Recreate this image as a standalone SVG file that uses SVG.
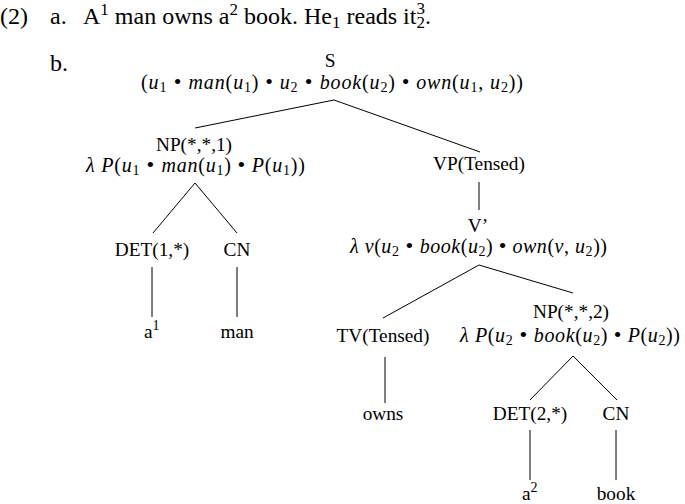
<svg xmlns="http://www.w3.org/2000/svg" width="685" height="504" viewBox="0 0 685 504">
<style>
text{font-family:"Liberation Serif","Times New Roman",serif;fill:#000}
.t{font-size:19.3px}
.m{font-size:20px}
.big{font-size:24px}
.c{text-anchor:middle}
.i{font-style:italic}
.s{font-size:14px}
.b{font-size:22px}
.ss{font-size:17px}
line{stroke:#000;stroke-width:1}
</style>
<rect width="685" height="504" fill="#fff"/>
<g id="example-header">
<text class="big" y="24"><tspan x="0">(2)</tspan><tspan x="50">a.</tspan><tspan x="83">A</tspan><tspan class="ss" dy="-9">1</tspan><tspan dy="9"> man owns a</tspan><tspan class="ss" dy="-9">2</tspan><tspan dy="9"> book. He</tspan><tspan class="ss" dy="4">1</tspan><tspan dy="-4"> reads it</tspan><tspan class="ss" dy="-10">3</tspan><tspan class="ss" dx="-8.5" dy="14">2</tspan><tspan dy="-4">.</tspan></text>
<text class="big" x="50" y="71">b.</text>
</g>
<g id="connectors">
<line x1="334" y1="100" x2="195" y2="128"/>
<line x1="334" y1="100" x2="480" y2="152"/>
<line x1="195" y1="183" x2="153" y2="233"/>
<line x1="195" y1="183" x2="237" y2="233"/>
<line x1="152" y1="267" x2="152" y2="317"/>
<line x1="237" y1="267" x2="237" y2="317"/>
<line x1="479" y1="182" x2="479" y2="210"/>
<line x1="479" y1="265" x2="383" y2="318"/>
<line x1="479" y1="265" x2="573" y2="293"/>
<line x1="385" y1="357" x2="385" y2="403"/>
<line x1="573" y1="356" x2="530" y2="400"/>
<line x1="573" y1="356" x2="617" y2="400"/>
<line x1="530" y1="430" x2="530" y2="480"/>
<line x1="616" y1="430" x2="616" y2="480"/>
</g>
<g id="node-S">
<text class="t c" x="330" y="67">S</text>
<text class="m" x="141" y="89" textLength="382" lengthAdjust="spacing">(<tspan class="i">u</tspan><tspan class="s" dy="3">1</tspan><tspan dy="-3" class="b"> • </tspan><tspan class="i">man</tspan>(<tspan class="i">u</tspan><tspan class="s" dy="3">1</tspan><tspan dy="-3">) <tspan class="b">•</tspan> </tspan><tspan class="i">u</tspan><tspan class="s" dy="3">2</tspan><tspan dy="-3" class="b"> • </tspan><tspan class="i">book</tspan>(<tspan class="i">u</tspan><tspan class="s" dy="3">2</tspan><tspan dy="-3">) <tspan class="b">•</tspan> </tspan><tspan class="i">own</tspan>(<tspan class="i">u</tspan><tspan class="s" dy="3">1</tspan><tspan dy="-3">, </tspan><tspan class="i">u</tspan><tspan class="s" dy="3">2</tspan><tspan dy="-3">))</tspan></text>
</g>
<g id="node-NP1">
<text class="t c" x="194" y="151">NP(*,*,1)</text>
<text class="m" x="86" y="172" textLength="219" lengthAdjust="spacing"><tspan class="i">λ P</tspan>(<tspan class="i">u</tspan><tspan class="s" dy="3">1</tspan><tspan dy="-3" class="b"> • </tspan><tspan class="i">man</tspan>(<tspan class="i">u</tspan><tspan class="s" dy="3">1</tspan><tspan dy="-3">) <tspan class="b">•</tspan> </tspan><tspan class="i">P</tspan>(<tspan class="i">u</tspan><tspan class="s" dy="3">1</tspan><tspan dy="-3">))</tspan></text>
</g>
<g id="node-DET1"><text class="t c" x="152" y="256">DET(1,*)</text></g>
<g id="node-CN1"><text class="t c" x="237" y="256">CN</text></g>
<g id="node-a1"><text class="t" x="144" y="338">a<tspan class="s" dy="-8">1</tspan></text></g>
<g id="node-man"><text class="t c" x="237" y="338">man</text></g>
<g id="node-VP"><text class="t c" x="479" y="170">VP(Tensed)</text></g>
<g id="node-V1">
<text class="t c" x="478" y="232">V’</text>
<text class="m" x="350" y="253" textLength="257" lengthAdjust="spacing"><tspan class="i">λ v</tspan>(<tspan class="i">u</tspan><tspan class="s" dy="3">2</tspan><tspan dy="-3" class="b"> • </tspan><tspan class="i">book</tspan>(<tspan class="i">u</tspan><tspan class="s" dy="3">2</tspan><tspan dy="-3">) <tspan class="b">•</tspan> </tspan><tspan class="i">own</tspan>(<tspan class="i">v</tspan>, <tspan class="i">u</tspan><tspan class="s" dy="3">2</tspan><tspan dy="-3">))</tspan></text>
</g>
<g id="node-TV"><text class="t c" x="383" y="342">TV(Tensed)</text></g>
<g id="node-NP2">
<text class="t c" x="571" y="318">NP(*,*,2)</text>
<text class="m" x="460" y="342" textLength="220" lengthAdjust="spacing"><tspan class="i">λ P</tspan>(<tspan class="i">u</tspan><tspan class="s" dy="3">2</tspan><tspan dy="-3" class="b"> • </tspan><tspan class="i">book</tspan>(<tspan class="i">u</tspan><tspan class="s" dy="3">2</tspan><tspan dy="-3">) <tspan class="b">•</tspan> </tspan><tspan class="i">P</tspan>(<tspan class="i">u</tspan><tspan class="s" dy="3">2</tspan><tspan dy="-3">))</tspan></text>
</g>
<g id="node-owns"><text class="t c" x="383" y="420">owns</text></g>
<g id="node-DET2"><text class="t c" x="530" y="420">DET(2,*)</text></g>
<g id="node-CN2"><text class="t c" x="616" y="420">CN</text></g>
<g id="node-a2"><text class="t" x="522" y="500">a<tspan class="s" dy="-8">2</tspan></text></g>
<g id="node-book"><text class="t c" x="616" y="500">book</text></g>
</svg>
